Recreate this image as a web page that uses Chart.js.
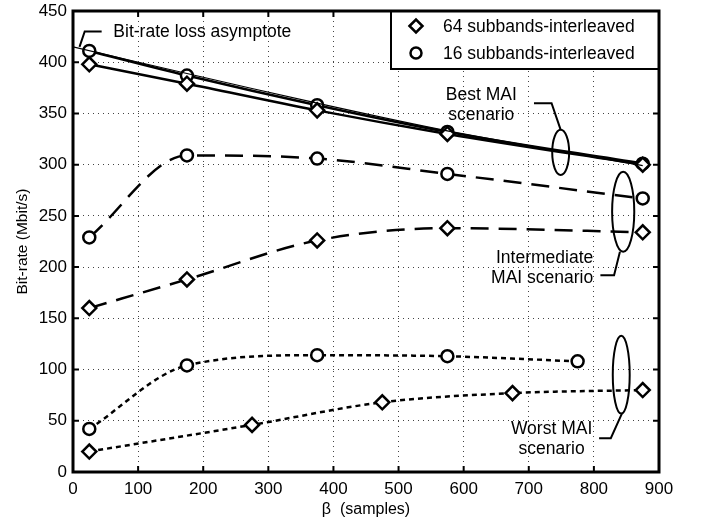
<!DOCTYPE html>
<html>
<head>
<meta charset="utf-8">
<script src="https://cdn.jsdelivr.net/npm/chart.js@4.4.1/dist/chart.umd.min.js"></script>
<style>
  html, body { margin: 0; padding: 0; background: #fff; }
  #wrap { width: 709px; height: 525px; }
</style>
</head>
<body>
<div id="wrap"><canvas id="chart" width="709" height="525"></canvas></div>
<script>
// axis ticks
const xTicks = [0, 100, 200, 300, 400, 500, 600, 700, 800, 900];
const yTicks = [0, 50, 100, 150, 200, 250, 300, 350, 400, 450];
const legendLabels = ['64 subbands-interleaved', '16 subbands-interleaved'];

// Best MAI scenario
const betaBest = [25, 175, 375, 575, 875];
const best64 = [398, 379, 353, 330, 300];
const best16 = [411, 387, 358, 332, 301];

// Bit-rate loss asymptote
const betaAsym = [0, 175, 375, 575, 875];
const asymptote = [415, 389, 360, 333, 299];

// Intermediate MAI scenario
const betaInter = [25, 175, 375, 575, 875];
const inter64 = [160, 188, 226, 238, 234];
const inter16 = [229, 309, 306, 291, 267];

// Worst MAI scenario
const betaWorst64 = [25, 275, 475, 675, 875];
const worst64 = [20, 46, 68, 77, 80];
const betaWorst16 = [25, 175, 375, 575, 775];
const worst16 = [42, 104, 114, 113, 108];

const FONT = '"Liberation Sans", Arial, sans-serif';

function pts(xs, ys) {
  return xs.map((x, i) => ({ x: x, y: ys[i] }));
}

function series(label, xs, ys, marker, dash) {
  return {
    label: label,
    data: pts(xs, ys),
    borderColor: '#000',
    backgroundColor: '#fff',
    borderWidth: 2.5,
    borderDash: dash,
    pointStyle: marker,
    pointRadius: marker === 'rectRot' ? 7 : 6,
    pointBorderWidth: 2.5,
    pointBackgroundColor: '#fff',
    pointBorderColor: '#000',
    cubicInterpolationMode: 'monotone',
    fill: false
  };
}

const datasets = [
  {
    label: 'asymptote',
    data: pts(betaAsym, asymptote),
    borderColor: '#000',
    borderWidth: 1.2,
    pointRadius: 0,
    tension: 0.3,
    fill: false
  },
  series(legendLabels[0], betaBest, best64, 'rectRot', []),
  series(legendLabels[1], betaBest, best16, 'circle', []),
  series(legendLabels[0], betaInter, inter64, 'rectRot', [18, 10]),
  series(legendLabels[1], betaInter, inter16, 'circle', [18, 10]),
  series(legendLabels[0], betaWorst64, worst64, 'rectRot', [5, 4]),
  series(legendLabels[1], betaWorst16, worst16, 'circle', [5, 4])
];

// annotation shapes, in data units
const ellipses = [
  { x: 749, y: 312, rx: 13, ry: 22 },
  { x: 845, y: 254, rx: 17, ry: 39 },
  { x: 842, y: 95, rx: 13, ry: 38 }
];
const leaders = [
  [[10, 415], [18, 430], [44, 430]],
  [[749, 334], [735, 360], [708, 360]],
  [[840, 215], [831, 192], [810, 192]],
  [[843, 57], [826, 33], [808, 33]]
];
const notes = [
  { lines: ['Bit-rate loss asymptote'], x: 62, y: 429, align: 'left' },
  { lines: ['Best MAI', 'scenario'], x: 627, y: 368, align: 'center' },
  { lines: ['Intermediate', 'MAI scenario'], x: 799, y: 209, align: 'right' },
  { lines: ['Worst MAI', 'scenario'], x: 735, y: 42, align: 'center' }
];

const decorPlugin = {
  id: 'decor',
  afterDatasetsDraw(chart) {
    const ctx = chart.ctx;
    const xs = chart.scales.x, ys = chart.scales.y;
    const a = chart.chartArea;
    ctx.save();

    // inward ticks
    ctx.strokeStyle = '#000';
    ctx.lineWidth = 2;
    xTicks.forEach(t => {
      const px = xs.getPixelForValue(t);
      ctx.beginPath();
      ctx.moveTo(px, a.bottom); ctx.lineTo(px, a.bottom - 6);
      ctx.moveTo(px, a.top); ctx.lineTo(px, a.top + 6);
      ctx.stroke();
    });
    yTicks.forEach(t => {
      const py = ys.getPixelForValue(t);
      ctx.beginPath();
      ctx.moveTo(a.left, py); ctx.lineTo(a.left + 6, py);
      ctx.moveTo(a.right, py); ctx.lineTo(a.right - 6, py);
      ctx.stroke();
    });

    // ellipses
    ctx.lineWidth = 2;
    ellipses.forEach(e => {
      const cx = xs.getPixelForValue(e.x), cy = ys.getPixelForValue(e.y);
      const rx = Math.abs(xs.getPixelForValue(e.x + e.rx) - cx);
      const ry = Math.abs(ys.getPixelForValue(e.y + e.ry) - cy);
      ctx.beginPath();
      ctx.ellipse(cx, cy, rx, ry, 0, 0, Math.PI * 2);
      ctx.stroke();
    });

    // leader lines
    leaders.forEach(l => {
      ctx.beginPath();
      l.forEach((p, i) => {
        const px = xs.getPixelForValue(p[0]), py = ys.getPixelForValue(p[1]);
        i ? ctx.lineTo(px, py) : ctx.moveTo(px, py);
      });
      ctx.stroke();
    });

    // text notes
    ctx.fillStyle = '#000';
    ctx.font = '17.5px ' + FONT;
    ctx.textBaseline = 'middle';
    notes.forEach(n => {
      ctx.textAlign = n.align;
      const px = xs.getPixelForValue(n.x), py = ys.getPixelForValue(n.y);
      n.lines.forEach((s, i) => ctx.fillText(s, px, py + i * 20));
    });

    // legend box
    const lx = a.right - 268, ly = a.top, lw = 268, lh = 58;
    ctx.fillStyle = '#fff';
    ctx.fillRect(lx, ly, lw, lh);
    ctx.lineWidth = 2;
    ctx.strokeRect(lx, ly, lw, lh);
    ctx.font = '17.5px ' + FONT;
    ctx.textAlign = 'left';
    legendLabels.forEach((s, i) => {
      const yy = ly + 15 + i * 27;
      ctx.lineWidth = 2.5;
      ctx.fillStyle = '#fff';
      Chart.helpers.drawPoint(ctx, {
        pointStyle: i === 0 ? 'rectRot' : 'circle',
        radius: i === 0 ? 6.5 : 5.5,
        borderWidth: 2.5
      }, lx + 25, yy);
      ctx.fillStyle = '#000';
      ctx.fillText(s, lx + 52, yy + 1);
    });

    // frame
    ctx.lineWidth = 3;
    ctx.strokeRect(a.left, a.top, a.right - a.left, a.bottom - a.top);
    ctx.restore();
  }
};

new Chart(document.getElementById('chart').getContext('2d'), {
  type: 'line',
  data: { datasets: datasets },
  options: {
    responsive: false,
    animation: false,
    devicePixelRatio: 1,
    layout: { padding: { left: 0, top: 11, right: 50, bottom: 0 } },
    plugins: {
      legend: { display: false },
      tooltip: { enabled: false }
    },
    scales: {
      x: {
        type: 'linear',
        min: 0, max: 900,
        afterBuildTicks: s => { s.ticks = xTicks.map(v => ({ value: v })); },
        afterFit: s => { s.height = 53; s.paddingLeft = 0; s.paddingRight = 0; },
        border: { display: false, dash: [1, 4] },
        grid: { color: '#444', lineWidth: 1, drawTicks: false },
        ticks: { color: '#000', font: { family: FONT, size: 17 }, padding: 7, maxRotation: 0 },
        title: { display: true, text: 'β  (samples)', color: '#000', font: { family: FONT, size: 16 }, padding: { top: 0, bottom: 6 } }
      },
      y: {
        type: 'linear',
        min: 0, max: 450,
        afterBuildTicks: s => { s.ticks = yTicks.map(v => ({ value: v })); },
        afterFit: s => { s.width = 73; s.paddingTop = 0; s.paddingBottom = 0; },
        border: { display: false, dash: [1, 4] },
        grid: { color: '#444', lineWidth: 1, drawTicks: false },
        ticks: { color: '#000', font: { family: FONT, size: 17 }, padding: 6 },
        title: { display: true, text: 'Bit-rate (Mbit/s)', color: '#000', font: { family: FONT, size: 15.5 }, padding: { top: 13, bottom: 0 } }
      }
    }
  },
  plugins: [decorPlugin]
});
</script>
</body>
</html>
